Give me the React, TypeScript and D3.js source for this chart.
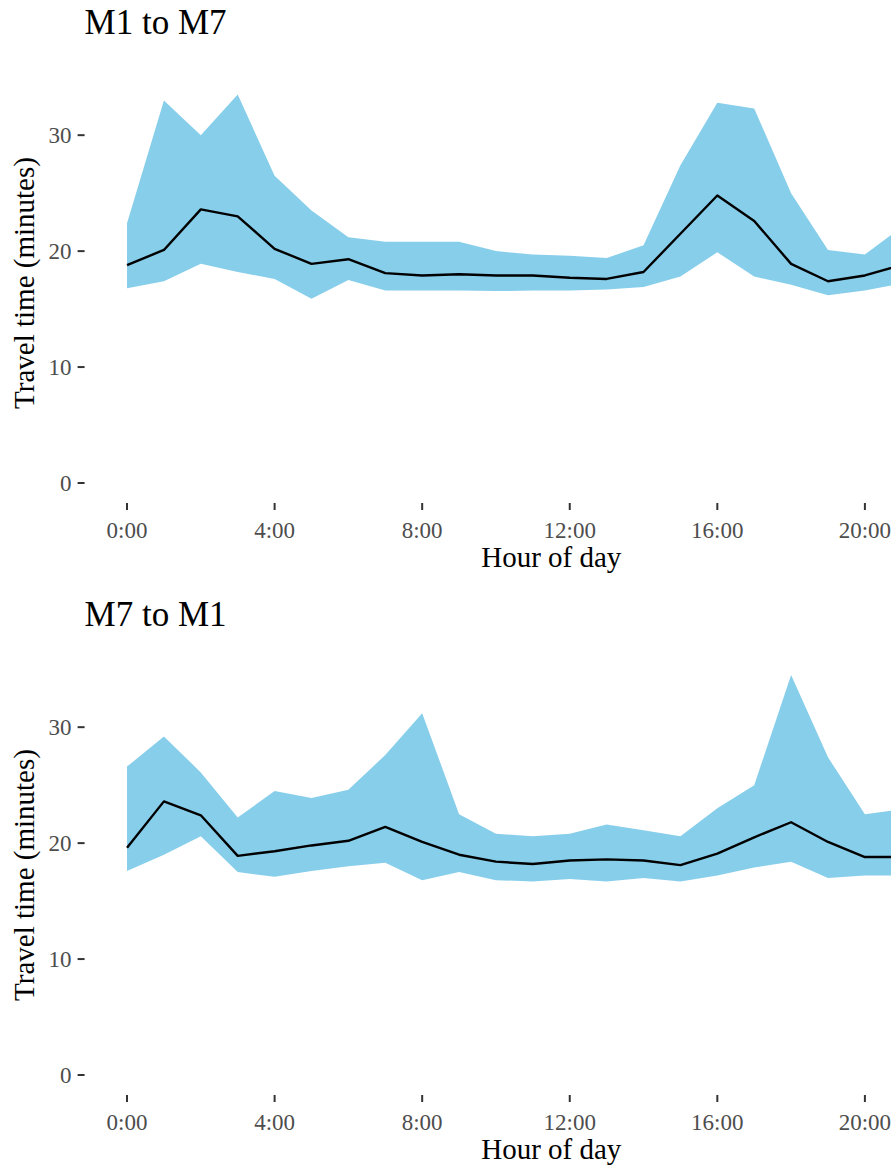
import React from "react";
import * as d3 from "d3";

// ---- data (hours 21+ lie outside the visible crop) ----
const hours = [0, 1, 2, 3, 4, 5, 6, 7, 8, 9, 10, 11, 12, 13, 14, 15, 16, 17, 18, 19, 20, 21];

const m1m7Upper = [22.4, 33.0, 30.0, 33.5, 26.5, 23.5, 21.2, 20.8, 20.8, 20.8, 20.0, 19.7, 19.6, 19.4, 20.5, 27.4, 32.8, 32.3, 25.0, 20.1, 19.7, 22.1];
const m1m7Median = [18.8, 20.1, 23.6, 23.0, 20.2, 18.9, 19.3, 18.1, 17.9, 18.0, 17.9, 17.9, 17.7, 17.6, 18.2, 21.5, 24.8, 22.6, 18.9, 17.4, 17.9, 18.8];
const m1m7Lower = [16.8, 17.4, 18.9, 18.2, 17.6, 15.9, 17.5, 16.6, 16.6, 16.6, 16.55, 16.6, 16.6, 16.7, 16.9, 17.8, 19.9, 17.8, 17.1, 16.2, 16.6, 17.2];

const m7m1Upper = [26.6, 29.2, 26.1, 22.2, 24.5, 23.9, 24.6, 27.6, 31.2, 22.5, 20.8, 20.6, 20.8, 21.6, 21.1, 20.6, 23.0, 25.0, 34.5, 27.4, 22.5, 22.9];
const m7m1Median = [19.6, 23.6, 22.4, 18.9, 19.3, 19.8, 20.2, 21.4, 20.1, 19.0, 18.4, 18.2, 18.5, 18.6, 18.5, 18.1, 19.1, 20.5, 21.8, 20.1, 18.8, 18.8];
const m7m1Lower = [17.6, 19.0, 20.6, 17.5, 17.1, 17.6, 18.0, 18.3, 16.8, 17.5, 16.8, 16.7, 16.9, 16.7, 17.0, 16.7, 17.2, 17.9, 18.4, 17.0, 17.2, 17.2];

const panelTitles = ["M1 to M7", "M7 to M1"];
const xTickValues = [0, 4, 8, 12, 16, 20];
const xTickLabels = ["0:00", "4:00", "8:00", "12:00", "16:00", "20:00"];
const yTickValues = [0, 10, 20, 30];
const xDomain = [0, 23];

const W = 891;
const H = 1165;
const FONT = "'Liberation Serif', 'Times New Roman', serif";

type Row = { h: number; lo: number; mid: number; hi: number };

function buildRows(lo: number[], mid: number[], hi: number[]): Row[] {
  return hours.map((h, i) => ({ h, lo: lo[i], mid: mid[i], hi: hi[i] }));
}

const panels = [
  { title: panelTitles[0], rows: buildRows(m1m7Lower, m1m7Median, m1m7Upper) },
  { title: panelTitles[1], rows: buildRows(m7m1Lower, m7m1Median, m7m1Upper) },
];

const yMax = d3.max([...m1m7Upper, ...m7m1Upper]) as number;

function Panel({ title, rows, offsetY }: { title: string; rows: Row[]; offsetY: number }) {
  const panelLeft = 84.6;
  const panelRight = 1018;
  const panelTop = 63;
  const panelBottom = 503;

  const xSpan = xDomain[1] - xDomain[0];
  const x = d3
    .scaleLinear()
    .domain([xDomain[0] - 0.05 * xSpan, xDomain[1] + 0.05 * xSpan])
    .range([panelLeft, panelRight]);
  const y = d3
    .scaleLinear()
    .domain([-0.05 * yMax, yMax * 1.05])
    .range([panelBottom, panelTop]);

  const area = d3
    .area<Row>()
    .x((d) => x(d.h))
    .y0((d) => y(d.lo))
    .y1((d) => y(d.hi));
  const line = d3
    .line<Row>()
    .x((d) => x(d.h))
    .y((d) => y(d.mid));

  const midY = (panelTop + panelBottom) / 2;

  return (
    <g transform={`translate(0,${offsetY})`}>
      <text x={panelLeft} y={34} fontSize={35} fontFamily={FONT} fill="#000">
        {title}
      </text>
      <path d={area(rows) ?? ""} fill="#87CEEB" stroke="none" />
      <path d={line(rows) ?? ""} fill="none" stroke="#000" strokeWidth={2.4} strokeLinejoin="round" />
      {yTickValues.map((v) => (
        <g key={v}>
          <line x1={panelLeft - 7} x2={panelLeft} y1={y(v)} y2={y(v)} stroke="#333333" strokeWidth={2} />
          <text
            x={panelLeft - 13}
            y={y(v)}
            dy="0.35em"
            textAnchor="end"
            fontSize={23}
            fontFamily={FONT}
            fill="#4D4D4D"
          >
            {v}
          </text>
        </g>
      ))}
      {xTickValues.map((v, i) => (
        <g key={v}>
          <line x1={x(v)} x2={x(v)} y1={panelBottom} y2={panelBottom + 7} stroke="#333333" strokeWidth={2} />
          <text x={x(v)} y={538} textAnchor="middle" fontSize={23} fontFamily={FONT} fill="#4D4D4D">
            {xTickLabels[i]}
          </text>
        </g>
      ))}
      <text
        x={(panelLeft + panelRight) / 2}
        y={567}
        textAnchor="middle"
        fontSize={29}
        fontFamily={FONT}
        fill="#000"
      >
        Hour of day
      </text>
      <text
        transform={`translate(34,${midY}) rotate(-90)`}
        textAnchor="middle"
        fontSize={29}
        fontFamily={FONT}
        fill="#000"
      >
        Travel time (minutes)
      </text>
    </g>
  );
}

export default function App() {
  return (
    <svg
      width={W}
      height={H}
      viewBox={`0 0 ${W} ${H}`}
      style={{ position: "absolute", left: 0, top: 0, background: "#fff", overflow: "hidden" }}
    >
      <rect x={0} y={0} width={W} height={H} fill="#fff" />
      {panels.map((p, i) => (
        <Panel key={p.title} title={p.title} rows={p.rows} offsetY={i * 592} />
      ))}
    </svg>
  );
}
